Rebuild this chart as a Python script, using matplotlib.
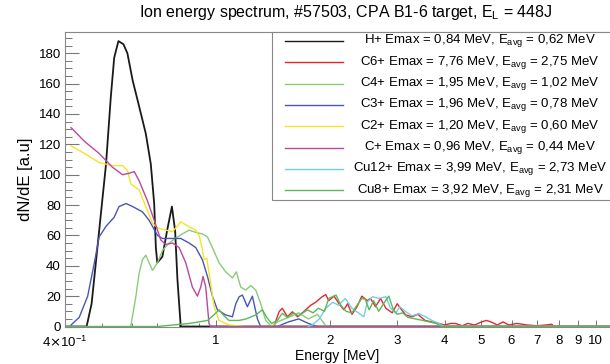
import numpy as np
import matplotlib.pyplot as plt
from matplotlib.lines import Line2D
from matplotlib.patches import Rectangle

plt.rcParams['font.family'] = ['Liberation Sans', 'DejaVu Sans']

# ---- data (energy in MeV, dN/dE in a.u.) ----
h_x = [0.40, 0.456, 0.470, 0.492, 0.513, 0.528, 0.539, 0.553, 0.570, 0.584, 0.603, 0.627,
       0.653, 0.673, 0.687, 0.694, 0.700, 0.722, 0.744, 0.765, 0.780, 0.791, 0.807, 10.9]
h_y = [0, 0, 15, 63, 107, 151, 177, 188, 186, 180, 162, 145,
       127, 107, 81, 52, 42, 46, 64, 79, 63, 31, 0, 0]

c6_x = [1.42, 1.465, 1.494, 1.541, 1.588, 1.64, 1.70, 1.775, 1.83, 1.903, 1.944, 1.98,
        2.045, 2.107, 2.17, 2.22, 2.28, 2.35, 2.42, 2.5, 2.55, 2.63, 2.71, 2.8, 2.91, 3.0,
        3.08, 3.16, 3.28, 3.4, 3.55, 3.7, 3.86, 4.0, 4.15, 4.27, 4.45, 4.6, 4.8, 5.0, 5.15,
        5.3, 5.5, 5.7, 5.9, 6.2, 6.6, 7.0, 7.4, 7.66, 7.76, 10.9]
c6_y = [0, 9.7, 12, 6.4, 9.7, 6.4, 9.7, 14, 16, 19.6, 21, 17,
        20, 15, 11, 15, 8, 13, 20, 17, 18.5, 13, 18.5, 12, 9, 15,
        11, 7.6, 6.4, 8, 4, 3, 2, 1, 2, 2, 0.5, 2, 1, 3, 4,
        3, 1, 3, 1, 2, 1, 0.5, 1, 1.5, 0, 0]

c4_x = [0.596, 0.615, 0.627, 0.640, 0.653, 0.666, 0.680, 0.701, 0.722, 0.752, 0.780, 0.815,
        0.849, 0.884, 0.920, 0.949, 0.978, 1.018, 1.06, 1.104, 1.131, 1.161, 1.197, 1.234,
        1.272, 1.311, 1.351, 1.40, 1.45, 1.55, 1.65, 1.75, 1.85, 1.95, 10.9]
c4_y = [0, 20, 35, 44, 47, 42, 37, 42, 50, 55, 58, 61,
        63.5, 62, 61, 59, 52, 42, 36, 32, 36, 26, 24, 27,
        24, 15, 4, 0, 3, 6, 9, 5, 8, 0, 0]

c3_x = [0.415, 0.436, 0.459, 0.478, 0.492, 0.513, 0.539, 0.555, 0.579, 0.603, 0.640, 0.666,
        0.701, 0.722, 0.768, 0.807, 0.849, 0.884, 0.920, 0.949, 0.978, 1.008, 1.06, 1.104,
        1.127, 1.15, 1.173, 1.209, 1.246, 1.285, 1.31, 1.45, 1.55, 1.65, 1.75, 1.85, 10.9]
c3_y = [1, 6, 20, 42, 59, 66, 72, 79, 81, 79, 75.5, 70,
        60, 58, 58, 58, 55, 52, 44, 33, 20, 11, 7.6, 6.4,
        15, 19.6, 20.7, 13, 20, 5, 0, 0, 3, 5, 2, 0, 0]

c2_x = [0.415, 0.45, 0.492, 0.533, 0.567, 0.584, 0.596, 0.627, 0.653, 0.680, 0.701, 0.737,
        0.768, 0.790, 0.807, 0.832, 0.849, 0.884, 0.902, 0.918, 0.930, 0.945, 0.968, 0.988,
        1.018, 1.08, 1.2, 10.9]
c2_y = [119, 114, 108, 106, 106, 103, 94, 90, 79, 68, 65, 63.5,
        62.5, 66, 69, 67, 65.7, 63.5, 60, 52, 44, 45, 28, 13,
        4, 1, 0, 0]

c1_x = [0.415, 0.45, 0.492, 0.533, 0.567, 0.591, 0.609, 0.627, 0.659, 0.687, 0.715, 0.737,
        0.768, 0.799, 0.832, 0.866, 0.893, 0.911, 0.924, 0.939, 0.958, 0.966, 10.9]
c1_y = [131, 122, 114, 105, 100, 101, 102, 96, 83, 70, 57, 54,
        55, 52, 42, 26, 20, 26, 33, 26, 2, 0, 0]

cu12_x = [1.75, 1.79, 1.87, 1.944, 2.03, 2.1, 2.19, 2.28, 2.38, 2.45, 2.5, 2.58, 2.69, 2.8,
          2.88, 2.97, 3.05, 3.15, 3.28, 3.42, 3.56, 3.7, 3.86, 3.99, 10.9]
cu12_y = [0, 1, 5, 12, 16, 14, 18.5, 12, 8.7, 6.4, 16, 19.6, 18.5, 19.6,
          12, 9, 13, 10, 7, 8.5, 6.4, 4, 2, 0, 0]

cu8_x = [0.4, 0.7, 0.85, 0.95, 1.0, 1.018, 1.05, 1.082, 1.15, 1.2, 1.272, 1.324, 1.36, 1.40,
         1.45, 1.494, 1.54, 1.6, 1.65, 1.74, 1.8, 1.86, 1.93, 1.98, 2.07, 2.13, 2.2, 2.28,
         2.35, 2.42, 2.47, 2.53, 2.6, 2.68, 2.76, 2.85, 2.93, 3.0, 3.1, 3.2, 3.35, 3.5, 3.65,
         3.8, 3.92, 10.9]
cu8_y = [0, 0, 2, 4, 9, 11, 7, 4, 4, 5, 7.6, 11, 6, 2,
         4, 8.7, 6, 9, 7, 11, 9, 12, 10, 18.5, 20.7, 14, 10, 9,
         14, 18.5, 18, 11, 17, 10, 15, 20, 11, 8, 9, 6, 5, 4, 3,
         2, 0, 0]

labels = ['H+ Emax = 0,84 MeV, E$_{\\mathregular{avg}}$ = 0,62 MeV',
          'C6+ Emax = 7,76 MeV, E$_{\\mathregular{avg}}$ = 2,75 MeV',
          'C4+ Emax = 1,95 MeV, E$_{\\mathregular{avg}}$ = 1,02 MeV',
          'C3+ Emax = 1,96 MeV, E$_{\\mathregular{avg}}$ = 0,78 MeV',
          'C2+ Emax = 1,20 MeV, E$_{\\mathregular{avg}}$ = 0,60 MeV',
          'C+ Emax = 0,96 MeV, E$_{\\mathregular{avg}}$ = 0,44 MeV',
          'Cu12+ Emax = 3,99 MeV, E$_{\\mathregular{avg}}$ = 2,73 MeV',
          'Cu8+ Emax = 3,92 MeV, E$_{\\mathregular{avg}}$ = 2,31 MeV']
colors = ['#1a1a1a', '#e8262b', '#8acb7a', '#4b55b5', '#f2e526', '#b8499f', '#72cfe2', '#5cb85a']
series = [(h_x, h_y), (c6_x, c6_y), (c4_x, c4_y), (c3_x, c3_y),
          (c2_x, c2_y), (c1_x, c1_y), (cu12_x, cu12_y), (cu8_x, cu8_y)]

xticks = [0.4, 1, 2, 3, 4, 5, 6, 7, 8, 9, 10]
xticklabels = ['4$\\times$10$^{\\mathregular{-1}}$', '1', '2', '3', '4', '5', '6', '7', '8', '9', '10']

#%% figure
fig = plt.figure(figsize=(6.1, 3.64), dpi=100)
ax = fig.add_axes([65/610, 1-326.5/364, 1-65/610, (326.5-32)/364])

for (x, y), c in zip(series, colors):
    lw = 1.3 if c == '#1a1a1a' else 1.0
    ax.plot(x, y, color=c, lw=lw)

ax.set_xscale('log')
ax.set_xlim(0.4, 10.9)
ax.set_ylim(0, 194)
ax.set_xticks(xticks)
ax.set_xticklabels(xticklabels)
ax.set_xticks([0.5, 0.6, 0.7, 0.8, 0.9], minor=True)
ax.xaxis.set_minor_formatter(plt.NullFormatter())
ax.set_yticks(np.arange(0, 181, 20))
ax.set_yticks(np.arange(0, 194, 5), minor=True)
ax.tick_params(axis='y', which='major', direction='in', length=10, width=0.8, color='#777777',
               labelsize=9.5, pad=3)
ax.tick_params(axis='y', which='minor', direction='in', length=5, width=0.7, color='#777777')
ax.tick_params(axis='x', which='major', direction='in', length=5, width=0.7, color='#777777',
               labelsize=9.5, pad=6)
ax.tick_params(axis='x', which='minor', direction='in', length=3, width=0.7, color='#777777')
for s in ['left', 'top', 'bottom']:
    ax.spines[s].set_color('#888888')
    ax.spines[s].set_linewidth(0.8)
ax.spines['right'].set_visible(False)

ax.set_ylabel('dN/dE [a.u]', fontsize=12, labelpad=4)
ax.set_xlabel('Energy [MeV]', fontsize=10, labelpad=-1)
fig.text(346/610, 1-13/364, 'Ion energy spectrum, #57503, CPA B1-6 target, E$_{\\mathregular{L}}$ = 448J',
         ha='center', va='center', fontsize=11.5)

# legend box with centred entries
fig.add_artist(Rectangle((272/610, 1-200/364), 340/610, 168/364, transform=fig.transFigure,
                         facecolor='white', edgecolor='#888888', lw=0.8))
for i, (lab, c) in enumerate(zip(labels, colors)):
    yy = 1 - (41 + 21.3*i)/364
    fig.add_artist(Line2D([285/610, 343/610], [yy, yy], transform=fig.transFigure, color=c, lw=1.0))
    fig.text(480/610, yy, lab, ha='center', va='center', fontsize=9.5)

fig.savefig('out.png', dpi=100)
